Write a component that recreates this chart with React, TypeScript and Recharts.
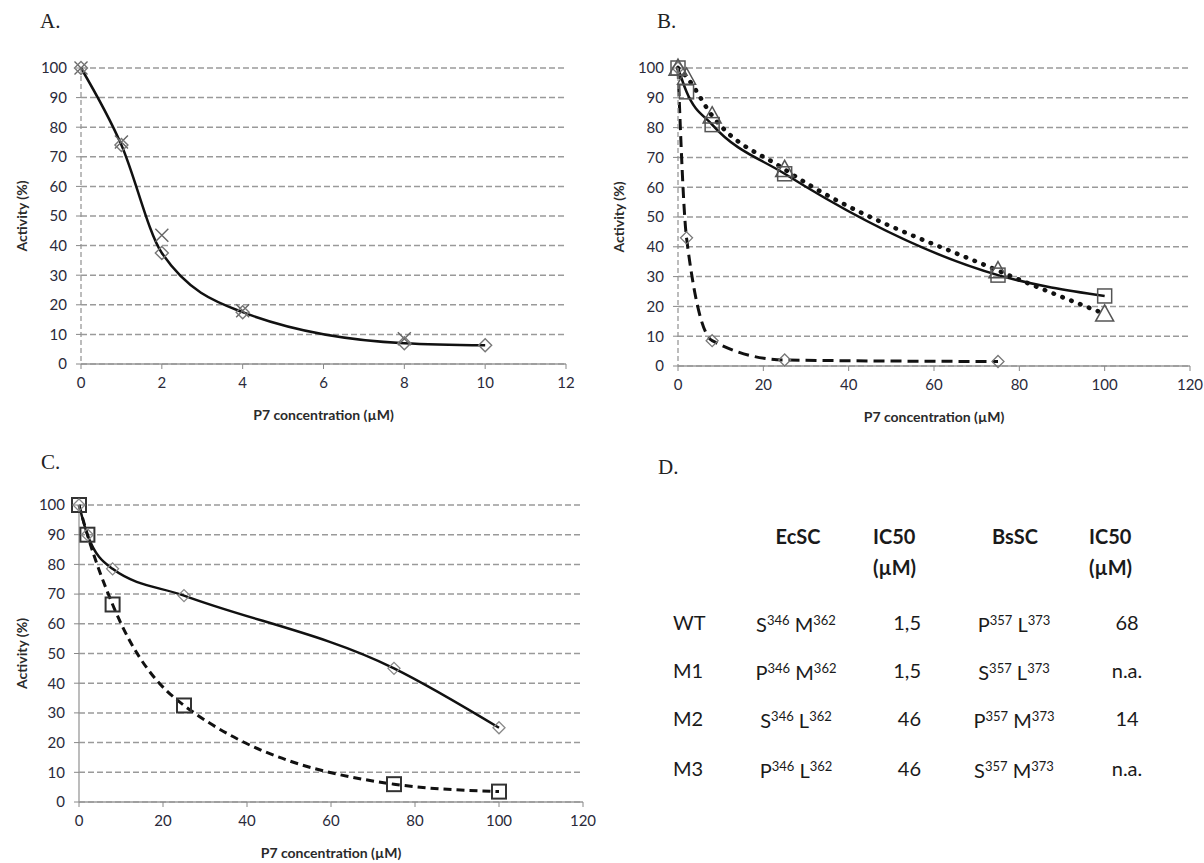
import React from "react";
import { LineChart, Line, XAxis, YAxis, CartesianGrid } from "recharts";

// panel A: concentrations 0-10 µM
const aConc = [0, 1, 2, 4, 8, 10];
const aDiamond = [100, 74, 37.5, 17.5, 7, 6.3];
const aCrossConc = [0, 1, 2, 4, 8];
const aCross = [100, 75, 43.5, 18, 8.5];

// panels B and C: concentrations 0-100 µM
const bcConc = [0, 2, 8, 25, 75, 100];
const bSquare = [100, 92, 81, 64.5, 30.5, 23.5];
const bTriangle = [100, 97, 84, 66, 32, 17.5];
const bDiamondConc = [0, 2, 8, 25, 75];
const bDiamond = [100, 43, 8.5, 2, 1.5];
const cDiamond = [100, 90, 78.5, 69.5, 45, 25];
const cSquare = [100, 90, 66.5, 32.5, 6, 3.5];

const yTicks = [0, 10, 20, 30, 40, 50, 60, 70, 80, 90, 100];
const aTicks = [0, 2, 4, 6, 8, 10, 12];
const bcTicks = [0, 20, 40, 60, 80, 100, 120];

// panel D table
const mutants = ["WT", "M1", "M2", "M3"];
const ecRes = [["S", "M"], ["P", "M"], ["S", "L"], ["P", "L"]];
const ecPos = ["346", "362"];
const ecIC50 = ["1,5", "1,5", "46", "46"];
const bsRes = [["P", "L"], ["S", "L"], ["P", "M"], ["S", "M"]];
const bsPos = ["357", "373"];
const bsIC50 = ["68", "n.a.", "14", "n.a."];

const pts = (xs: number[], ys: number[]) => xs.map((x, i) => ({ x, y: ys[i] }));

const SANS = "Lato, 'Open Sans', sans-serif";
const tickStyle = { fill: "#2a2a3a", fontSize: 15, fontFamily: SANS };
const titleStyle = { fill: "#2a2a2a", fontSize: 14, fontWeight: 700, fontFamily: SANS };

const diamond = (h: number, stroke: string, sw: number) => (p: any) =>
  p.cx == null ? null : (
    <path key={p.index} d={`M${p.cx},${p.cy - h}L${p.cx + h},${p.cy}L${p.cx},${p.cy + h}L${p.cx - h},${p.cy}Z`}
      fill="none" stroke={stroke} strokeWidth={sw} />
  );
const square = (h: number, stroke: string, sw: number, fill = "none") => (p: any) =>
  p.cx == null ? null : (
    <rect key={p.index} x={p.cx - h} y={p.cy - h} width={2 * h} height={2 * h} fill={fill} stroke={stroke} strokeWidth={sw} />
  );
const triangle = (h: number, stroke: string, sw: number) => (p: any) =>
  p.cx == null ? null : (
    <path key={p.index} d={`M${p.cx},${p.cy - h}L${p.cx + h},${p.cy + h * 0.8}L${p.cx - h},${p.cy + h * 0.8}Z`}
      fill="none" stroke={stroke} strokeWidth={sw} />
  );
const cross = (h: number, stroke: string, sw: number) => (p: any) =>
  p.cx == null ? null : (
    <path key={p.index} d={`M${p.cx - h},${p.cy - h}L${p.cx + h},${p.cy + h}M${p.cx + h},${p.cy - h}L${p.cx - h},${p.cy + h}`}
      stroke={stroke} strokeWidth={sw} />
  );

const grid = <CartesianGrid vertical={false} stroke="#9a9a9a" strokeDasharray="6 3" strokeWidth={1.5} />;

function yAxis(width: number, offset: number, dashed: boolean) {
  return (
    <YAxis type="number" domain={[0, 100]} ticks={yTicks} interval={0} width={width}
      tick={tickStyle} tickSize={5} tickMargin={9} tickLine={{ stroke: "#888" }}
      axisLine={{ stroke: "#999", strokeWidth: 1.3, strokeDasharray: dashed ? "5 3" : undefined }}
      label={{ value: "Activity (%)", angle: -90, position: "insideLeft", offset, style: { ...titleStyle, textAnchor: "middle" } }} />
  );
}
function xAxis(max: number, ticks: number[]) {
  return (
    <XAxis type="number" dataKey="x" domain={[0, max]} ticks={ticks} interval={0} height={56}
      tick={tickStyle} tickSize={5} tickMargin={8} tickLine={{ stroke: "#888" }}
      axisLine={{ stroke: "#999", strokeWidth: 1.3 }}
      label={{ value: "P7 concentration (µM)", position: "insideBottom", offset: 0, style: titleStyle }} />
  );
}

const Letter = ({ x, y, t }: { x: number; y: number; t: string }) => (
  <div style={{ position: "absolute", left: x, top: y, transform: "translateY(-50%)", fontFamily: "'Liberation Serif', serif", fontSize: 21, color: "#222" }}>{t}</div>
);

const Cell = ({ x, y, a, bold, children }: any) => (
  <div style={{
    position: "absolute", left: x, top: y, whiteSpace: "nowrap",
    transform: `translate(${a === "c" ? "-50%" : a === "r" ? "-100%" : "0"}, -50%)`,
    fontFamily: SANS, fontSize: 20, fontWeight: bold ? 700 : 400, color: "#1a1a1a", lineHeight: "24px",
  }}>{children}</div>
);

const Res = ({ r, pos }: { r: string[]; pos: string[] }) => (
  <span>
    {r[0]}<sup style={{ fontSize: 13, verticalAlign: "7px" }}>{pos[0]}</sup>{" "}
    {r[1]}<sup style={{ fontSize: 13, verticalAlign: "7px" }}>{pos[1]}</sup>
  </span>
);

export default function App() {
  const rowY = [622, 670, 718, 768];
  return (
    <div style={{ position: "absolute", left: 0, top: 0, width: 1204, height: 863, background: "#fff" }}>
      <Letter x={40} y={21} t="A." />
      <Letter x={657} y={21} t="B." />
      <Letter x={41} y={462} t="C." />
      <Letter x={658} y={467} t="D." />

      <div style={{ position: "absolute", left: 0, top: 0 }}>
        <LineChart width={600} height={430} margin={{ top: 68, right: 34, bottom: 10, left: 5 }}>
          {grid}
          {xAxis(12, aTicks)}
          {yAxis(76, 17, true)}
          <Line data={pts(aCrossConc, aCross)} dataKey="y" stroke="none" dot={cross(6.5, "#666", 1.4)} activeDot={false} isAnimationActive={false} />
          <Line data={pts(aConc, aDiamond)} dataKey="y" type="monotone" stroke="#111" strokeWidth={2.5} dot={diamond(6.5, "#777", 1.4)} activeDot={false} isAnimationActive={false} />
        </LineChart>
      </div>

      <div style={{ position: "absolute", left: 600, top: 0 }}>
        <LineChart width={604} height={430} margin={{ top: 68, right: 14, bottom: 8, left: 5 }}>
          {grid}
          {xAxis(120, bcTicks)}
          {yAxis(73, 14, true)}
          <Line data={pts(bDiamondConc, bDiamond)} dataKey="y" type="monotone" stroke="#111" strokeWidth={3} strokeDasharray="11 6" dot={diamond(6, "#777", 1.3)} activeDot={false} isAnimationActive={false} />
          <Line data={pts(bcConc, bTriangle)} dataKey="y" type="monotone" stroke="#111" strokeWidth={4.5} strokeDasharray="0.5 9" strokeLinecap="round" dot={triangle(9, "#555", 1.5)} activeDot={false} isAnimationActive={false} />
          <Line data={pts(bcConc, bSquare)} dataKey="y" type="monotone" stroke="#111" strokeWidth={2.5} dot={square(7, "#555", 1.5)} activeDot={false} isAnimationActive={false} />
        </LineChart>
      </div>

      <div style={{ position: "absolute", left: 0, top: 430 }}>
        <LineChart width={600} height={433} margin={{ top: 75, right: 17, bottom: 5, left: 5 }}>
          {grid}
          {xAxis(120, bcTicks)}
          {yAxis(74, 17, false)}
          <Line data={pts(bcConc, cSquare)} dataKey="y" type="monotone" stroke="#111" strokeWidth={3} strokeDasharray="8 5" dot={square(7, "#333", 2)} activeDot={false} isAnimationActive={false} />
          <Line data={pts(bcConc, cDiamond)} dataKey="y" type="monotone" stroke="#111" strokeWidth={2.5} dot={diamond(6, "#888", 1.3)} activeDot={false} isAnimationActive={false} />
        </LineChart>
      </div>

      <Cell x={798} y={536} a="c" bold>EcSC</Cell>
      <Cell x={873} y={536} a="l" bold>IC50</Cell>
      <Cell x={873} y={567} a="l" bold>(µM)</Cell>
      <Cell x={1015} y={536} a="c" bold>BsSC</Cell>
      <Cell x={1089} y={536} a="l" bold>IC50</Cell>
      <Cell x={1089} y={567} a="l" bold>(µM)</Cell>
      {mutants.map((m, i) => (
        <React.Fragment key={m}>
          <Cell x={673} y={rowY[i]} a="l">{m}</Cell>
          <Cell x={796} y={rowY[i]} a="c"><Res r={ecRes[i]} pos={ecPos} /></Cell>
          <Cell x={921} y={rowY[i]} a="r">{ecIC50[i]}</Cell>
          <Cell x={1014} y={rowY[i]} a="c"><Res r={bsRes[i]} pos={bsPos} /></Cell>
          <Cell x={1127} y={rowY[i]} a="c">{bsIC50[i]}</Cell>
        </React.Fragment>
      ))}
    </div>
  );
}
